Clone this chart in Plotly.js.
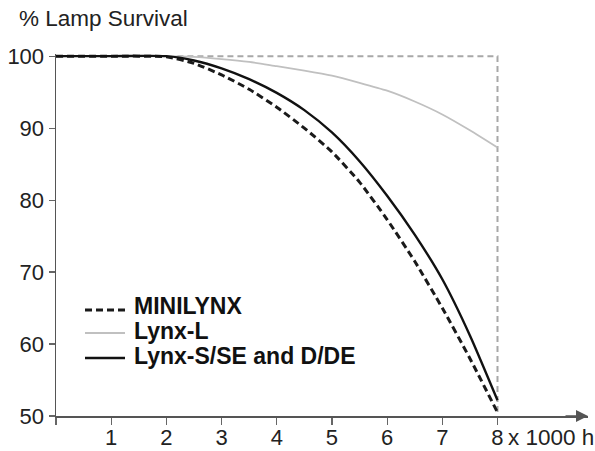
<!DOCTYPE html>
<html>
<head>
<meta charset="utf-8">
<script src="https://cdn.plot.ly/plotly-3.0.1.min.js"></script>
<style>html,body{margin:0;padding:0;background:#fff;}#chart{width:595px;height:451px;}</style>
</head>
<body>
<div id="chart"></div>
<script>
// ---- data ----
const hours     = [0, 1, 2, 2.5, 3, 3.5, 4, 4.5, 5, 5.5, 6, 6.5, 7, 7.5, 8];
const minilynx  = [100, 100, 99.9, 99.0, 97.4, 95.4, 92.9, 90.0, 86.7, 82.5, 77.3, 71.5, 65.0, 58.0, 50.5];
const lynxL     = [100, 100, 100, 99.9, 99.6, 99.2, 98.6, 98.0, 97.3, 96.3, 95.2, 93.7, 91.9, 89.7, 87.3];
const lynxSSE   = [100, 100, 100, 99.4, 98.3, 96.8, 94.9, 92.5, 89.4, 85.4, 80.6, 75.2, 69.0, 61.2, 52.2];
const boxX      = [2.2, 8, 8];
const boxY      = [100, 100, 50];
const seriesNames = ['MINILYNX', 'Lynx-L', 'Lynx-S/SE and D/DE'];
const xTickVals = [0, 1, 2, 3, 4, 5, 6, 7, 8];
const xTickText = ['', '1', '2', '3', '4', '5', '6', '7', '8'];
const yTickVals = [50, 60, 70, 80, 90, 100];
const yTitle = '% Lamp Survival';
const xUnit = 'x 1000 h';

// ---- layout geometry ----
const W = 595, H = 451;
const M = {l: 56, r: 7, t: 54, b: 35};
const xRange = [0, 9.64];
const yRange = [50, 100.3];
const pw = W - M.l - M.r, ph = H - M.t - M.b;
const px2x = px => xRange[0] + (px - M.l) / pw * (xRange[1] - xRange[0]);
const py2y = py => yRange[1] - (py - M.t) / ph * (yRange[1] - yRange[0]);

const FONT = 'Liberation Sans, Arial, Helvetica, sans-serif';
const TXT = '#222';
const styles = [
  {color: '#1a1a1a', width: 3, dash: '7px,4px'},
  {color: '#c0c0c0', width: 1.8, dash: 'solid'},
  {color: '#111111', width: 2.4, dash: 'solid'}
];
const seriesY = [minilynx, lynxL, lynxSSE];

const traces = [{
  x: boxX, y: boxY, mode: 'lines', showlegend: false, hoverinfo: 'skip',
  line: {color: '#a8a8a8', width: 2, dash: '6px,4px'}
}];
seriesY.forEach((ys, i) => traces.push({
  x: hours, y: ys, mode: 'lines', name: seriesNames[i], showlegend: false,
  line: {color: styles[i].color, width: styles[i].width, dash: styles[i].dash, shape: 'spline', smoothing: 0.6}
}));

const annotations = [
  {xref: 'paper', yref: 'paper', x: (17 - M.l) / pw, y: 1 + (M.t - 19) / ph, xanchor: 'left', yanchor: 'middle',
   text: yTitle, showarrow: false, font: {family: FONT, size: 22.5, color: TXT}},
  {xref: 'x', yref: 'y', x: 8, y: 50, xanchor: 'left', yanchor: 'middle', xshift: 9, yshift: -21,
   text: xUnit, showarrow: false, font: {family: FONT, size: 22.5, color: TXT}},
  {xref: 'x', yref: 'y', x: xRange[1], y: 50, ax: -24, ay: 0, axref: 'pixel', ayref: 'pixel',
   text: '', showarrow: true, arrowhead: 2, arrowsize: 1.6, arrowwidth: 1.5, arrowcolor: '#555'}
];
const shapes = [];
const rowsY = [306, 331, 356];
const sampleY = [310, 333, 358];
seriesNames.forEach((nm, i) => {
  annotations.push({xref: 'x', yref: 'y', x: px2x(132), y: py2y(rowsY[i]), xanchor: 'left', yanchor: 'middle',
    text: '<b>' + nm + '</b>', showarrow: false, font: {family: FONT, size: 23, color: '#111'}});
  shapes.push({type: 'line', xref: 'x', yref: 'y', x0: px2x(85), x1: px2x(125), y0: py2y(sampleY[i]), y1: py2y(sampleY[i]),
    line: {color: styles[i].color, width: styles[i].width, dash: styles[i].dash}});
});

const layout = {
  width: W, height: H, margin: M, paper_bgcolor: '#fff', plot_bgcolor: '#fff',
  showlegend: false,
  font: {family: FONT, size: 22, color: TXT},
  xaxis: {range: xRange, showgrid: false, zeroline: false, showline: true, linecolor: '#555', linewidth: 1.5,
    tickmode: 'array', tickvals: xTickVals, ticktext: xTickText, ticks: 'outside', ticklen: 7, tickcolor: '#666', tickwidth: 1.2,
    ticklabelstandoff: -6,
    tickfont: {family: FONT, size: 22, color: TXT}},
  yaxis: {range: yRange, showgrid: false, zeroline: false, showline: true, linecolor: '#555', linewidth: 1.5,
    tickmode: 'array', tickvals: yTickVals, ticks: 'outside', ticklen: 6, tickcolor: '#666', tickwidth: 1.2,
    tickfont: {family: FONT, size: 22, color: TXT}},
  annotations: annotations, shapes: shapes
};

Plotly.newPlot('chart', traces, layout, {displayModeBar: false, staticPlot: true});
</script>
</body>
</html>
